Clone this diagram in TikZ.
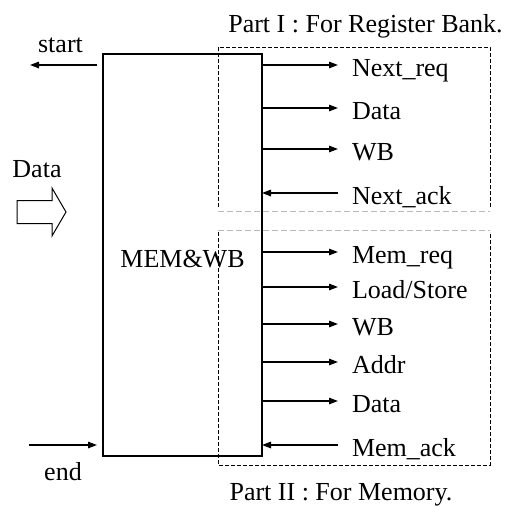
\documentclass[tikz,border=0pt]{standalone}
\usepackage{fontspec}
\setmainfont{Liberation Serif}
\usetikzlibrary{arrows.meta}
\begin{document}
\begin{tikzpicture}[x=1pt,y=-1pt,
  every node/.style={font=\fontsize{26}{30}\selectfont, inner sep=0pt, outer sep=0pt},
  sig/.style={line width=1.3pt, -{Triangle[length=9pt,width=6.5pt]}},
  partbox/.style={line width=1pt, dash pattern=on 4pt off 2pt},
  partsep/.style={line width=0.6pt, gray!55, dash pattern=on 6pt off 3pt},
  lbl/.style={anchor=base west}]
\useasboundingbox (0,0) rectangle (507,507);

% main pipeline stage block
\node[draw, line width=1.5pt, minimum width=159pt, minimum height=402pt] (mem) at (182.5,255) {};
\node[anchor=base] (memlbl) at (182.5,267) {MEM\&WB};

% part I : register bank interface
\draw[partbox] (218,207) -- (218,47) -- (490,47) -- (490,207);
\draw[partsep] (218,211) -- (490,211);
\node[anchor=base] (part1) at (365.5,32) {Part I : For Register Bank.};

% part II : memory interface
\draw[partsep] (218,230) -- (490,230);
\draw[partbox] (218,232) -- (218,465) -- (490,465) -- (490,232);
\node[anchor=base] (part2) at (341,500) {Part II : For Memory.};

% outputs and inputs on the right side
\foreach \n/\y/\t in {nreq/65/{Next\_req}, rdata/108/{Data}, rwb/149/{WB},
                      mreq/252/{Mem\_req}, ldst/287/{Load/Store}, mwb/324/{WB},
                      addr/362/{Addr}, mdata/401/{Data}}{
  \node[lbl] (\n) at (352,\y+11) {\t};
  \coordinate (\n p) at ([yshift=11pt]\n.base west);
  \draw[sig] (mem.east |- \n p) -- ([xshift=-14pt]\n p);
}
\foreach \n/\y/\t in {nack/193/{Next\_ack}, mack/445/{Mem\_ack}}{
  \node[lbl] (\n) at (352,\y+11) {\t};
  \coordinate (\n p) at ([yshift=11pt]\n.base west);
  \draw[sig] ([xshift=-14pt]\n p) -- (mem.east |- \n p);
}

% control signals on the left side
\node[anchor=base] (startlbl) at (60.5,52) {start};
\coordinate (startout) at (30,65);
\draw[sig] ([xshift=-6pt]mem.west |- startout) -- (startout);

\node[anchor=base] (endlbl) at (63,480) {end};
\coordinate (endin) at (29,445);
\draw[sig] (endin) -- ([xshift=-6pt]mem.west |- endin);

% incoming data
\node[anchor=base] (datalbl) at (37,177) {Data};
\draw[line width=1pt, line join=miter] (17,200.5) -- (52,200.5) -- (52,188) -- (66,212)
  -- (52,236) -- (52,223.5) -- (17,223.5) -- cycle;
\end{tikzpicture}
\end{document}
